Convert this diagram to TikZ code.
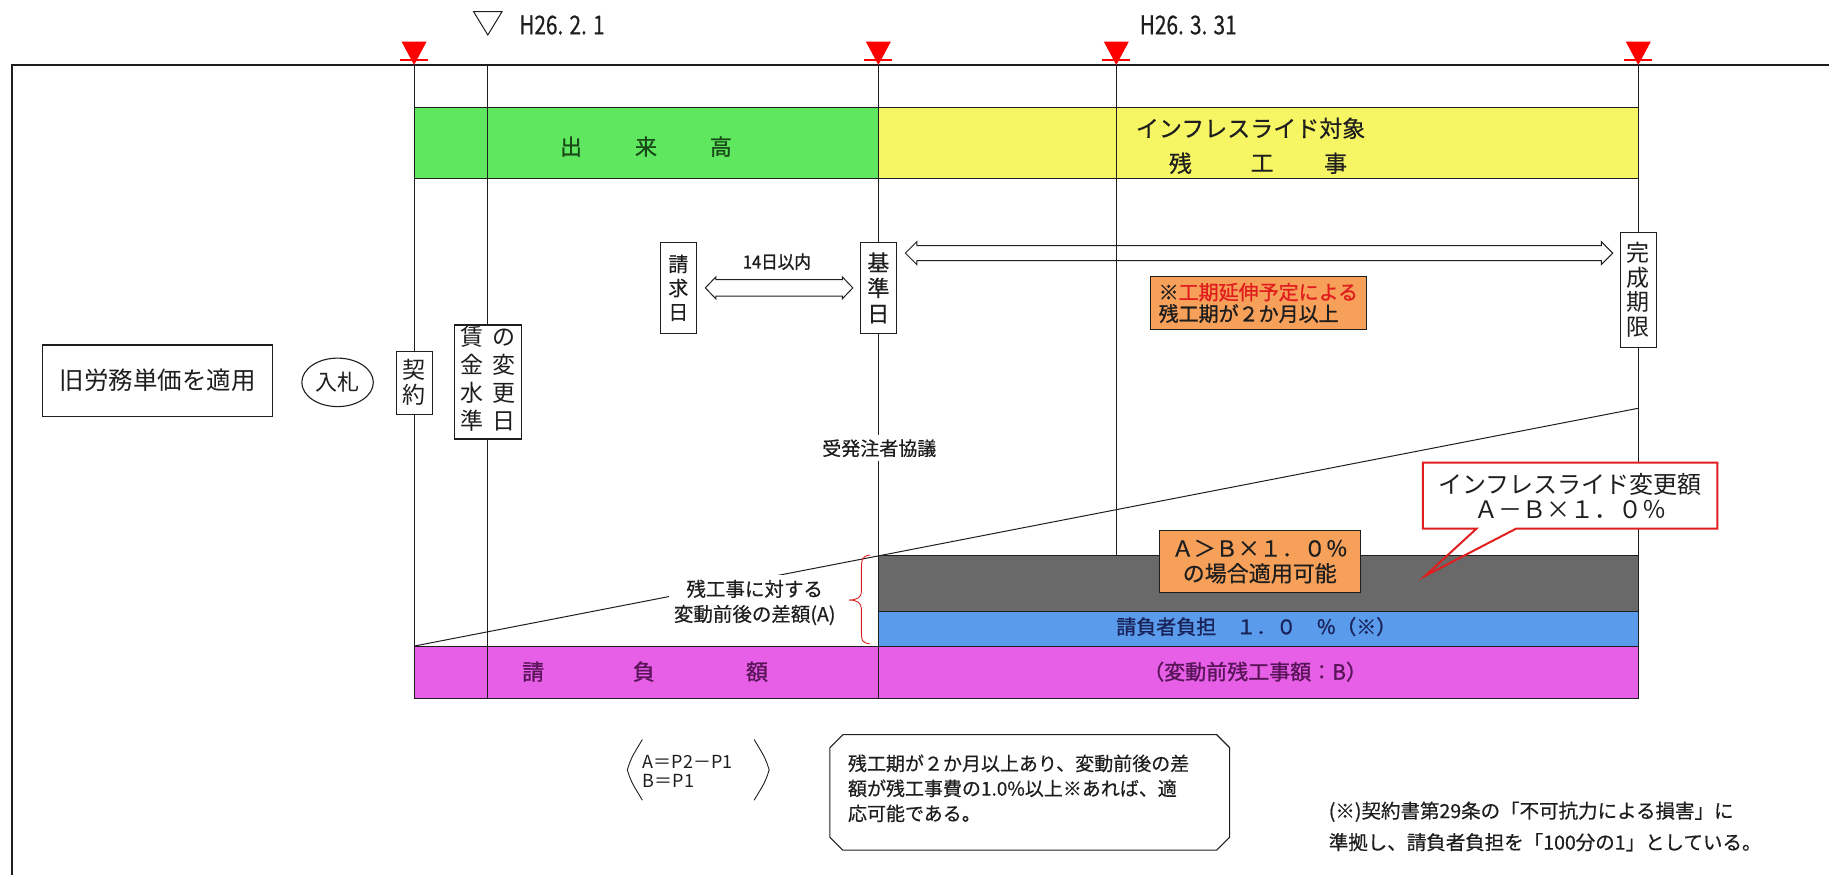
\documentclass[tikz,border=0pt]{standalone}
\usepackage{fontspec}
\usepackage{graphicx}
\setmainfont{Noto Sans CJK JP}
\newfontfamily\heavy{Noto Sans CJK JP}[FakeBold=1.2]
\newfontfamily\semi{Noto Sans CJK JP}[FakeBold=0.5]
\usetikzlibrary{shapes.geometric,calc}
\newcommand{\myfs}[2]{\fontsize{#1}{#2}\selectfont}
\definecolor{cgreen}{RGB}{95,232,95}
\definecolor{cyellow}{RGB}{246,246,100}
\definecolor{corange}{RGB}{246,160,90}
\definecolor{cgray}{RGB}{105,105,105}
\definecolor{cblue}{RGB}{90,155,235}
\definecolor{cmag}{RGB}{230,95,230}
\definecolor{tgreen}{RGB}{25,75,25}
\definecolor{tmag}{RGB}{90,20,90}
\definecolor{tblue}{RGB}{25,35,90}
\definecolor{cred}{RGB}{225,30,30}
\definecolor{ink}{RGB}{30,30,30}
\newcommand{\hollowarrow}[5]{%
  \draw[harrow] let \p1=#1, \p2=#2 in
    (\x1,\y1) -- (\x1+#5,\y1+#4) -- (\x1+#5,\y1+#3) -- (\x2-#5,\y1+#3) -- (\x2-#5,\y1+#4)
    -- (\x2,\y1) -- (\x2-#5,\y1-#4) -- (\x2-#5,\y1-#3) -- (\x1+#5,\y1-#3) -- (\x1+#5,\y1-#4) -- cycle;}
\begin{document}
\begin{tikzpicture}[x=1.16645pt,y=-1.16645pt,
  vline/.style={line width=1.1pt, draw=ink},
  barbox/.style={draw=ink, line width=0.9pt},
  vbox/.style={draw=ink, fill=white, line width=1.1pt, inner sep=0pt, align=center, text=ink},
  lbl/.style={inner sep=1pt, text=ink},
  harrow/.style={draw=ink, line width=1pt},
  redmark/.style={fill=red},
]
\useasboundingbox (0,0) rectangle (1568,750);

% timeline coordinates
\coordinate (t1) at (355,55.7);    \coordinate (b1) at (355,598.5);
\coordinate (t0) at (418,55.7);    \coordinate (b0) at (418,598.5);
\coordinate (t2) at (753,55.7);    \coordinate (b2) at (753,598.5);
\coordinate (t3) at (957,55.7);    \coordinate (b3) at (957,475.8);
\coordinate (t4) at (1404.5,55.7); \coordinate (b4) at (1404.5,598.5);

% bars
\path[barbox, fill=cgreen]  (355,92.3) rectangle (753,152.7);
\path[barbox, fill=cyellow] (753,92.3) rectangle (1404.5,152.7);
\path[barbox, fill=cgray]   (753,475.8) rectangle (1404.5,524.3);
\path[barbox, fill=cblue]   (753,524.3) rectangle (1404.5,553.9);
\path[barbox, fill=cmag]    (355,553.9) rectangle (1404.5,598.5);

% vertical timeline lines
\draw[vline] (t1) -- (b1);
\draw[vline] (t0) -- (b0);
\draw[vline] (t2) -- (b2);
\draw[vline] (t3) -- (b3);
\draw[vline] (t4) -- (b4);

% sloped line
\coordinate (s0) at (355,553.9);
\coordinate (s1) at (1404.5,350);
\draw[line width=1pt, ink] (s0) -- (s1);

% frame
\draw[line width=2.2pt, ink] (1580,55.7) -- (10,55.7) -- (10,760);

% red markers
\foreach \n in {t1,t2,t3,t4}{
  \fill[redmark] (\n) -- ++(-12.5pt,23.3pt) -- ++(25pt,0) -- cycle;
  \draw[red, line width=1.3pt] ([shift={(-14pt,5pt)}]\n) -- ([shift={(14pt,5pt)}]\n);
}
% open marker
\draw[line width=1pt, ink] (406,10) -- (430.4,10) -- (418.2,30) -- cycle;
\node[anchor=west, inner sep=0pt, text=ink, font=\semi\myfs{26}{28}] (d1) at (445,21.4) {\scalebox{0.8}[1]{H26. 2. 1}};
\node[anchor=west, inner sep=0pt, text=ink, font=\semi\myfs{26}{28}] (d2) at (977,21.4) {\scalebox{0.8}[1]{H26. 3. 31}};

% bar texts
\node[lbl, text=tgreen, font=\heavy\myfs{22}{24}] (de1) at (489.6,125.7) {出};
\node[lbl, text=tgreen, font=\heavy\myfs{22}{24}] (de2) at (553.8,125.7) {来};
\node[lbl, text=tgreen, font=\heavy\myfs{22}{24}] (de3) at (618,125.7) {高};
\node[lbl, anchor=west, font=\semi\myfs{23}{25}] (inf) at (972.8,110) {インフレスライド対象};
\node[lbl, font=\semi\myfs{23}{25}] (zk1) at (1012,140) {残};
\node[lbl, font=\semi\myfs{23}{25}] (zk2) at (1082,140) {工};
\node[lbl, font=\semi\myfs{23}{25}] (zk3) at (1145,140) {事};
\node[lbl, text=tblue, font=\heavy\myfs{20}{22}] (futan) at (1077,537.2) {請負者負担　１．０　％（※）};
\node[lbl, text=tmag, font=\heavy\myfs{21}{24}] (henb) at (1076,575.8) {（変動前残工事額：B）};
\node[lbl, text=tmag, font=\heavy\myfs{22}{24}] (uk1) at (457,575.8) {請};
\node[lbl, text=tmag, font=\heavy\myfs{22}{24}] (uk2) at (552,575.8) {負};
\node[lbl, text=tmag, font=\heavy\myfs{22}{24}] (uk3) at (649,575.8) {額};

% vertical label boxes
\node[vbox, minimum width=36pt, minimum height=91pt, font=\semi\myfs{20}{24}] (seikyu) at (581.5,246.8) {請\\求\\日};
\node[vbox, minimum width=36pt, minimum height=91pt, font=\semi\myfs{22}{25.5}] (kijun) at (753,246.8) {基\\準\\日};
\node[vbox, minimum width=36pt, minimum height=115.5pt, font=\myfs{23}{24.5}] (kansei) at (1404.5,248.5) {完\\成\\期\\限};
\node[vbox, minimum width=36pt, minimum height=63pt, font=\myfs{23}{25}] (keiyaku) at (355,328) {契\\約};
\node[vbox, minimum width=67pt, minimum height=114pt, font=\myfs{23}{27.7}] (chingin) at (418,327.5)
  {\begin{tabular}{@{}c@{\hspace{9pt}}c@{}}賃&の\\金&変\\水&更\\準&日\end{tabular}};
\node[draw=ink, fill=white, line width=1.1pt, minimum width=230pt, minimum height=71.4pt, text=ink, font=\myfs{24.5}{28}] (kyu) at (135.4,326.4) {旧労務単価を適用};
\node[ellipse, draw=ink, line width=1.1pt, minimum width=71.5pt, minimum height=48.5pt, inner sep=0pt, text=ink, font=\myfs{22}{26}] (nyu) at (289.4,327.8) {入札};

% hollow arrows
\coordinate (la) at (0,217);
\hollowarrow{([xshift=8.5pt]seikyu.east)}{([xshift=-7pt]kijun.west)}{8.3pt}{11pt}{10.5pt}
\hollowarrow{([xshift=8.5pt]kijun.east |- la)}{([xshift=-7pt]kansei.west |- la)}{7.5pt}{11.5pt}{11.5pt}
\node[lbl, font=\heavy\myfs{18}{20}] (d14) at (666,224.3) {\scalebox{0.92}[1]{14日以内}};
\node[lbl, fill=white, inner sep=4pt, font=\semi\myfs{19}{22}] (kyogi) at (753.8,384.3) {受発注者協議};

% orange note
\node[draw=ink, fill=corange, line width=1pt, minimum width=216.7pt, minimum height=52.8pt, inner sep=0pt, align=left, text=ink, font=\heavy\myfs{20}{21.6}] (ext) at (1078.8,259.7) {※{\color{cred}工期延伸予定による}\\残工期が２か月以上};

% condition box
\node[draw=ink, fill=corange, line width=1pt, minimum width=200.6pt, minimum height=61.8pt, inner sep=0pt, align=center, text=ink, font=\semi\myfs{22}{25}] (cond) at (1080,481.5) {Ａ＞Ｂ×１．０％\\の場合適用可能};

% red callout
\coordinate (tip) at (1221.7,493.7);
\node[fill=white, minimum width=294pt, minimum height=65.7pt, inner sep=0pt, align=center, text=ink, font=\myfs{24}{25}] (rbox) at (1346,424.85) {インフレスライド変更額\\Ａ－Ｂ×１．０％};
\draw[cred, line width=2pt, line join=miter] (rbox.north west) -- (rbox.north east) -- (rbox.south east) -- ([xshift=93.3pt]rbox.south west) -- (tip) -- ([xshift=53.7pt]rbox.south west) -- (rbox.south west) -- cycle;

% difference label and brace
\node[fill=white, inner sep=5pt, align=center, text=ink, font=\semi\myfs{19.5}{25}] (diff) at (647,516.5) {残工事に対する\\変動前後の差額(A)};
\draw[cred, line width=0.9pt] (745.8,475.8) .. controls (738.5,477) and (738.5,480) .. (738.5,488) -- (738.5,507) .. controls (738.5,512) and (735,514.4) .. (727.7,514.4) .. controls (735,514.4) and (738.5,517) .. (738.5,522) -- (738.5,541) .. controls (738.5,549) and (738.5,551) .. (745.8,552);

% formula
\node[anchor=west, align=left, inner sep=0pt, text=ink, font=\myfs{18}{19}] (form) at (551,661) {A＝P2－P1\\B＝P1};
\draw[line width=0.9pt, ink] (550.7,634) .. controls (541,650) .. (537.8,660) .. controls (541,670) .. (550.7,686);
\draw[line width=0.9pt, ink] (646.5,634) .. controls (656.2,650) .. (659.4,660) .. controls (656.2,670) .. (646.5,686);

% chamfered note
\node[minimum width=399.4pt, minimum height=115.1pt, inner sep=0pt] (cbox) at (882.8,679.35) {};
\draw[line width=1.1pt, ink] ([xshift=13pt]cbox.north west) -- ([xshift=-13pt]cbox.north east) -- ([yshift=-13pt]cbox.north east) -- ([yshift=13pt]cbox.south east) -- ([xshift=-13pt]cbox.south east) -- ([xshift=13pt]cbox.south west) -- ([yshift=13pt]cbox.south west) -- ([yshift=-13pt]cbox.north west) -- cycle;
\node[anchor=west, align=left, inner sep=0pt, text=ink, font=\semi\myfs{19}{25}] (note) at (726.8,675.8) {残工期が２か月以上あり、変動前後の差\\額が残工事費の1.0\%以上※あれば、適\\応可能である。};

% footnote
\node[anchor=west, align=left, inner sep=0pt, text=ink, font=\semi\myfs{19.5}{31.5}] (foot) at (1139,708.5) {(※)契約書第29条の「不可抗力による損害」に\\準拠し、請負者負担を「100分の1」としている。};
\end{tikzpicture}
\end{document}
